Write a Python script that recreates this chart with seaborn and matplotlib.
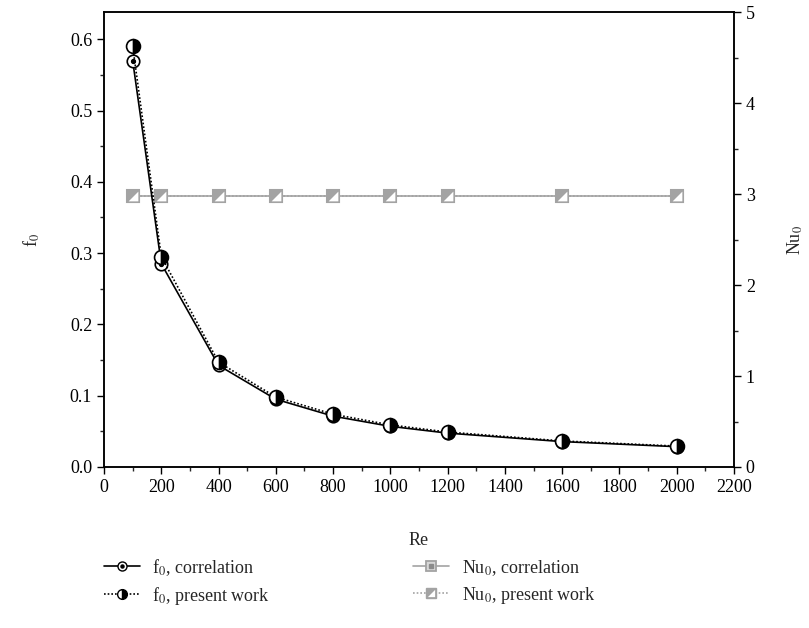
import matplotlib
matplotlib.use("Agg")
import matplotlib.pyplot as plt
import seaborn as sns
import pandas as pd
from matplotlib.ticker import MultipleLocator
from matplotlib.lines import Line2D
from matplotlib.legend_handler import HandlerTuple

# data
re_vals = [100, 200, 400, 600, 800, 1000, 1200, 1600, 2000]
f0_corr = [0.570, 0.285, 0.1425, 0.095, 0.0713, 0.057, 0.0475, 0.0356, 0.0285]
f0_pres = [0.590, 0.295, 0.147, 0.098, 0.074, 0.059, 0.049, 0.0365, 0.0293]
nu_corr = [2.98, 2.98, 2.98, 2.98, 2.98, 2.98, 2.98, 2.98, 2.98]
nu_pres = [2.98, 2.98, 2.98, 2.98, 2.98, 2.98, 2.98, 2.98, 2.98]

df = pd.DataFrame({"Re": re_vals, "f0_corr": f0_corr, "f0_pres": f0_pres,
                   "nu_corr": nu_corr, "nu_pres": nu_pres})

sns.set_style("ticks")
plt.rcParams["font.family"] = ["Liberation Serif", "DejaVu Serif"]
plt.rcParams["mathtext.fontset"] = "stix"

GRAY = "#a3a3a3"
DGRAY = "#8c8c8c"
# white half of the split square marker (lower right)
TRI = [(-0.55, -0.55), (0.55, -0.55), (0.55, 0.55), (-0.55, -0.55)]
DOT_LS = (0, (1, 1.2))

fig = plt.figure(figsize=(8.09, 6.28), dpi=100)
ax = fig.add_axes([0.1286, 0.2564, 0.7787, 0.7237])
ax2 = ax.twinx()

# Nu curves (right axis)
sns.lineplot(data=df, x="Re", y="nu_corr", ax=ax2, color=GRAY, linewidth=1.2,
             marker="s", markersize=8.5, markerfacecolor="#d8d8d8",
             markeredgecolor=GRAY, markeredgewidth=1.5, zorder=3)
sns.lineplot(data=df, x="Re", y="nu_pres", ax=ax2, color=GRAY, linewidth=1.2,
             linestyle=DOT_LS, marker="s", markersize=8.5,
             markerfacecolor=GRAY, markeredgecolor=GRAY, zorder=4)
ax2.plot(df["Re"], df["nu_pres"], linestyle="none", marker=TRI,
         markersize=7, markerfacecolor="white", markeredgewidth=0, zorder=5)

# f0 curves (left axis)
sns.lineplot(data=df, x="Re", y="f0_corr", ax=ax, color="black", linewidth=1.2,
             marker="o", markersize=9, markerfacecolor="white",
             markeredgecolor="black", markeredgewidth=1.2, zorder=3)
ax.plot(df["Re"], df["f0_corr"], linestyle="none", marker="o", markersize=2.8,
        color="black", zorder=4)
sns.lineplot(data=df, x="Re", y="f0_pres", ax=ax, color="black", linewidth=1.2,
             linestyle=DOT_LS, marker="o", markersize=10,
             fillstyle="right", markerfacecolor="black", markerfacecoloralt="white",
             markeredgecolor="black", markeredgewidth=1.2, zorder=5)

ax.set_zorder(ax2.get_zorder() + 1)
ax.patch.set_visible(False)

ax.set_xlim(0, 2200)
ax.set_ylim(0, 0.6375)
ax2.set_ylim(0, 5)

ax.xaxis.set_major_locator(MultipleLocator(200))
ax.xaxis.set_minor_locator(MultipleLocator(100))
ax.yaxis.set_major_locator(MultipleLocator(0.1))
ax.yaxis.set_minor_locator(MultipleLocator(0.05))
ax2.yaxis.set_major_locator(MultipleLocator(1))
ax2.yaxis.set_minor_locator(MultipleLocator(0.5))
ax.set_yticks(ax.get_yticks())
ax.set_yticklabels([f"{v:.1f}" for v in ax.get_yticks()])
ax.set_ylim(0, 0.6375)

for a in (ax, ax2):
    a.tick_params(which="major", direction="out", length=5, width=1, labelsize=13, colors="black")
    a.tick_params(which="minor", direction="out", length=3, width=1)
    for s in a.spines.values():
        s.set_visible(True)
        s.set_linewidth(1.1)
        s.set_color("black")

ax.set_xlabel("Re", fontsize=13, labelpad=26)
ax.set_ylabel(r"f$_0$", fontsize=13, labelpad=20)
ax2.set_ylabel(r"Nu$_0$", fontsize=13, labelpad=22)

# legend
h1 = (Line2D([], [], color="black", lw=1.2, marker="o", ms=6.5, mfc="white", mec="black"),
      Line2D([], [], color="black", lw=0, marker="o", ms=2.2))
h2 = Line2D([], [], color="black", lw=1.2, ls=DOT_LS, marker="o", ms=7,
            fillstyle="right", mfc="black", mfcalt="white", mec="black")
h3 = (Line2D([], [], color=GRAY, lw=1.2, marker="s", ms=6.5, mfc="#d8d8d8", mec=GRAY, mew=1.3),
      Line2D([], [], color=DGRAY, lw=0, marker="s", ms=2.2))
h4 = (Line2D([], [], color=GRAY, lw=1.2, ls=DOT_LS, marker="s", ms=6.5, mfc=GRAY, mec=GRAY),
      Line2D([], [], lw=0, marker=TRI, ms=5.2, mfc="white", mew=0))
fig.legend([h1, h2, h3, h4],
           [r"f$_0$, correlation", r"f$_0$, present work",
            r"Nu$_0$, correlation", r"Nu$_0$, present work"],
           handler_map={tuple: HandlerTuple(ndivide=1, pad=0)},
           ncol=2, frameon=False, fontsize=13, loc="lower left",
           bbox_to_anchor=(0.108, 0.008), columnspacing=7.9, handlelength=2.0,
           handletextpad=0.7, labelspacing=0.4)

fig.savefig("out.png", dpi=100)
